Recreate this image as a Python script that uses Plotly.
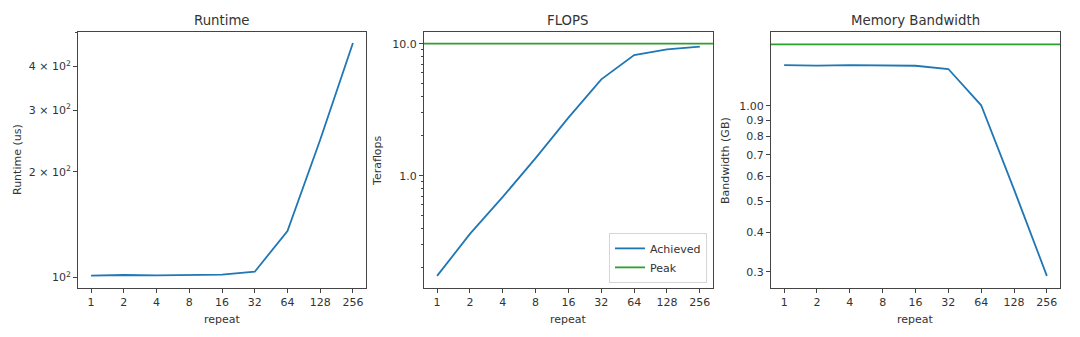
import math
import plotly.graph_objects as go

# ---- data ----
repeat = [1, 2, 4, 8, 16, 32, 64, 128, 256]
repeat_labels = [str(r) for r in repeat]
runtime_us = [101.1, 101.5, 101.2, 101.4, 101.7, 103.7, 135.6, 246.9, 466.3]
teraflops = [0.174, 0.362, 0.69, 1.36, 2.75, 5.37, 8.2, 9.07, 9.5]
peak_tflops = 10.0
bandwidth_gb = [1.343, 1.337, 1.342, 1.340, 1.336, 1.305, 1.003, 0.545, 0.291]
peak_bandwidth = 1.56

rt_ticks = [100, 200, 300, 400]
rt_ticktext = ["10<sup>2</sup>", "2 \u00d7 10<sup>2</sup>", "3 \u00d7 10<sup>2</sup>", "4 \u00d7 10<sup>2</sup>"]
rt_minor = [500]
fl_ticks = [1, 10]
fl_ticktext = ["1.0", "10.0"]
fl_minor = [0.2, 0.3, 0.4, 0.5, 0.6, 0.7, 0.8, 0.9, 2, 3, 4, 5, 6, 7, 8, 9]
bw_ticks = [0.3, 0.4, 0.5, 0.6, 0.7, 0.8, 0.9, 1.0]
bw_ticktext = ["0.3", "0.4", "0.5", "0.6", "0.7", "0.8", "0.9", "1.00"]

BLUE = "#1f77b4"
GREEN = "#2ca02c"
AX = "#444444"
TXT = "#333333"
FONT = "DejaVu Sans"

fig = go.Figure()
fig.add_trace(go.Scatter(x=repeat, y=runtime_us, mode="lines", line=dict(color=BLUE, width=1.8),
                         xaxis="x", yaxis="y", showlegend=False))
fig.add_trace(go.Scatter(x=repeat, y=teraflops, mode="lines", line=dict(color=BLUE, width=1.8),
                         xaxis="x2", yaxis="y2", name="Achieved", showlegend=True))
fig.add_trace(go.Scatter(x=[None], y=[None], mode="lines", line=dict(color=GREEN, width=1.8),
                         xaxis="x2", yaxis="y2", name="Peak", showlegend=True))
fig.add_trace(go.Scatter(x=repeat, y=bandwidth_gb, mode="lines", line=dict(color=BLUE, width=1.8),
                         xaxis="x3", yaxis="y3", showlegend=False))

for xr, yr, val in [("x2", "y2", peak_tflops), ("x3", "y3", peak_bandwidth)]:
    fig.add_shape(type="line", xref=xr + " domain", yref=yr, x0=0, x1=1, y0=val, y1=val,
                  line=dict(color=GREEN, width=1.8))

pad = 0.4 * math.log10(2)
xrange = [math.log10(repeat[0]) - pad, math.log10(repeat[-1]) + pad]

domains = [[0.0, 0.2933], [0.3523, 0.6466], [0.7057, 1.0]]
common_x = dict(type="log", range=xrange, tickmode="array", tickvals=repeat, ticktext=repeat_labels,
                showline=True, mirror=True, linecolor=AX, linewidth=1, ticks="outside", ticklen=4,
                tickcolor=AX, showgrid=False, zeroline=False, tickfont=dict(size=11, color=TXT, family=FONT))
common_y = dict(type="log", showline=True, mirror=True, linecolor=AX, linewidth=1, ticks="outside",
                ticklen=4, tickcolor=AX, showgrid=False, zeroline=False, tickmode="array",
                tickfont=dict(size=11, color=TXT, family=FONT))

layout = dict(
    width=1080, height=337, margin=dict(l=78, r=20, t=32, b=49),
    paper_bgcolor="white", plot_bgcolor="white",
    font=dict(family=FONT, size=11, color=TXT),
    legend=dict(x=0.6405, xanchor="right", y=0.02, yanchor="bottom", bgcolor="rgba(255,255,255,0.8)",
                bordercolor="#d5d5d5", borderwidth=1, font=dict(size=11, color=TXT, family=FONT),
                itemwidth=30, tracegroupgap=0),
)
for i, (d, anchor) in enumerate(zip(domains, ["y", "y2", "y3"])):
    key = "xaxis" if i == 0 else f"xaxis{i+1}"
    layout[key] = dict(common_x, domain=d, anchor=anchor)

layout["yaxis"] = dict(common_y, anchor="x", domain=[0, 1], range=[1.9694, 2.7002],
                       tickvals=rt_ticks, ticktext=rt_ticktext,
                       minor=dict(tickmode="array", tickvals=rt_minor, ticks="outside", ticklen=2, tickcolor=AX))
layout["yaxis2"] = dict(common_y, anchor="x2", domain=[0, 1], range=[-0.851, 1.0886],
                        tickvals=fl_ticks, ticktext=fl_ticktext,
                        minor=dict(tickmode="array", tickvals=fl_minor, ticks="outside", ticklen=2, tickcolor=AX))
layout["yaxis3"] = dict(common_y, anchor="x3", domain=[0, 1], range=[-0.5742, 0.2321],
                        tickvals=bw_ticks, ticktext=bw_ticktext)
fig.update_layout(**layout)

titles = ["Runtime", "FLOPS", "Memory Bandwidth"]
ylabels = ["Runtime (us)", "Teraflops", "Bandwidth (GB)"]
yshifts = [-61, -47, -46]
for i in range(3):
    xr = "x" if i == 0 else f"x{i+1}"
    yr = "y" if i == 0 else f"y{i+1}"
    fig.add_annotation(text=titles[i], xref=xr + " domain", yref=yr + " domain", x=0.5, y=1,
                       xanchor="center", yanchor="bottom", yshift=2, showarrow=False,
                       font=dict(size=13.3, color=TXT, family=FONT))
    fig.add_annotation(text=ylabels[i], xref=xr + " domain", yref=yr + " domain", x=0, y=0.5,
                       xanchor="center", yanchor="middle", xshift=yshifts[i], textangle=-90,
                       showarrow=False, font=dict(size=11, color=TXT, family=FONT))
    fig.add_annotation(text="repeat", xref=xr + " domain", yref=yr + " domain", x=0.5, y=0,
                       xanchor="center", yanchor="middle", yshift=-31, showarrow=False,
                       font=dict(size=11, color=TXT, family=FONT))

fig.write_html("out.html")
